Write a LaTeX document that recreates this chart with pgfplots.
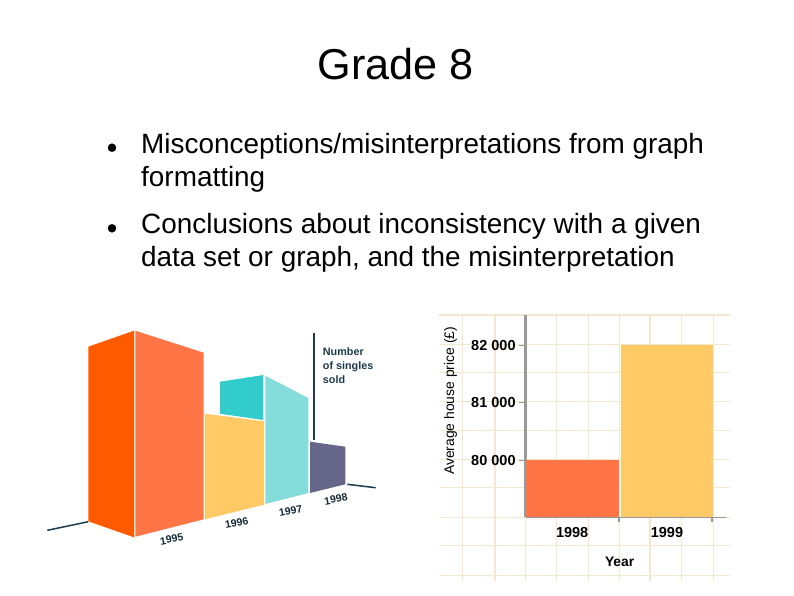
\documentclass[border=0pt]{standalone}
\usepackage{pgfplots}
\pgfplotsset{compat=1.18}
\usepackage{fontspec}
\setmainfont{Liberation Sans}

\definecolor{deeporange}{HTML}{FF5A00}
\definecolor{softorange}{HTML}{FF7545}
\definecolor{softyellow}{HTML}{FFC966}
\definecolor{teal3d}{HTML}{33CCCC}
\definecolor{lightteal}{HTML}{85DDDB}
\definecolor{slate}{HTML}{666688}
\definecolor{inkblue}{HTML}{1C3A4A}
\definecolor{gridcream}{HTML}{F3E8CF}
\definecolor{axisgrey}{HTML}{999999}

\newcommand{\px}[1]{\fontsize{#1}{#1}\selectfont}

\begin{document}
\begin{tikzpicture}[x=1pt,y=1pt]
\useasboundingbox (0,0) rectangle (794,595);

% slide canvas, coordinates are pixels of the slide
\begin{axis}[
	at={(0,0)}, anchor=south west,
	scale only axis, width=794pt, height=595pt,
	xmin=0, xmax=794, ymin=0, ymax=595,
	y dir=reverse,
	hide axis,
	clip=false,
	unbounded coords=jump,
	]
	% cream grid behind the house price chart
	\addplot[gridcream, line width=1.2pt, forget plot] coordinates {
		(462.7,314) (462.7,581) (nan,nan) (495,314) (495,581) (nan,nan)
		(525.7,314) (525.7,581) (nan,nan) (556.7,314) (556.7,581) (nan,nan)
		(588.3,314) (588.3,581) (nan,nan) (619.3,314) (619.3,581) (nan,nan)
		(650,314) (650,581) (nan,nan) (681.7,314) (681.7,581) (nan,nan)
		(713.3,314) (713.3,581)
	};
	\addplot[gridcream, line width=1.2pt, forget plot] coordinates {
		(439,315) (730,315) (nan,nan) (439,344.3) (730,344.3) (nan,nan)
		(439,372.7) (730,372.7) (nan,nan) (439,401.7) (730,401.7) (nan,nan)
		(439,430.7) (730,430.7) (nan,nan) (439,459.3) (730,459.3) (nan,nan)
		(439,487.7) (730,487.7) (nan,nan) (439,517.3) (730,517.3) (nan,nan)
		(439,545.7) (730,545.7) (nan,nan) (439,575.7) (730,575.7)
	};

	% bullets
	\addplot[only marks, mark=*, mark size=4pt, mark options={black}] coordinates {(112,147.7) (112,228.3)};

	% 3d singles chart
	\addplot[fill=deeporange, draw=none] coordinates {(88.3,346.7) (134,330.7) (134,537.3) (88.3,521.3)} --cycle;
	\addplot[fill=softorange, draw=none] coordinates {(135.3,330.7) (203.7,352.7) (203.7,519.3) (135.3,536.7)} --cycle;
	\addplot[fill=teal3d, draw=none] coordinates {(220,381.7) (263.3,375) (263.3,420) (220,413.7)} --cycle;
	\addplot[fill=softyellow, draw=none] coordinates {(205,413.7) (264,421.3) (264,504.7) (205,519.3)} --cycle;
	\addplot[fill=lightteal, draw=none] coordinates {(265.3,375.7) (308.3,398) (308.3,493) (265.3,504)} --cycle;
	\addplot[fill=slate, draw=none] coordinates {(310,441.7) (345.3,446.7) (345.3,484.3) (310,493)} --cycle;

	\addplot[inkblue, line width=1.7pt] coordinates {(314,333.3) (314,440)};
	\addplot[inkblue, line width=1.5pt] coordinates {(47.3,530.3) (88.3,521.7)};
	\addplot[inkblue, line width=1.5pt] coordinates {(347.3,484.3) (375.7,487.7)};

	\node[rotate=11, font=\px{10.5}\bfseries, text=inkblue!70!black] at (axis cs:171.7,539.3) {1995};
	\node[rotate=11, font=\px{10.5}\bfseries, text=inkblue!70!black] at (axis cs:236.7,522.7) {1996};
	\node[rotate=11, font=\px{10.5}\bfseries, text=inkblue!70!black] at (axis cs:290.7,510.7) {1997};
	\node[rotate=11, font=\px{10.5}\bfseries, text=inkblue!70!black] at (axis cs:336,499.3) {1998};
	\node[anchor=base west, inner sep=0, font=\px{10.8}\bfseries, text=inkblue] at (axis cs:322.7,355.5) {Number};
	\node[anchor=base west, inner sep=0, font=\px{10.8}\bfseries, text=inkblue] at (axis cs:322.7,369) {of singles};
	\node[anchor=base west, inner sep=0, font=\px{10.8}\bfseries, text=inkblue] at (axis cs:322.7,383) {sold};

	% slide text
	\node[anchor=base, inner sep=0, font=\px{43.2}] at (axis cs:396,79.5) {Grade 8};
	\node[anchor=base west, inner sep=0, font=\px{27.9}] at (axis cs:141,153) {Misconceptions/misinterpretations from graph};
	\node[anchor=base west, inner sep=0, font=\px{27.9}] at (axis cs:141,186) {formatting};
	\node[anchor=base west, inner sep=0, font=\px{27.9}] at (axis cs:141,233) {Conclusions about inconsistency with a given};
	\node[anchor=base west, inner sep=0, font=\px{27.9}] at (axis cs:141,266) {data set or graph, and the misinterpretation};
\end{axis}

% house price chart
\begin{axis}[
	at={(554.4,134.5)}, anchor=south west,
	scale only axis, width=200pt, height=202.3pt,
	xmin=-0.4905, xmax=1.619,
	ymin=79012, ymax=82520,
	axis x line=bottom, axis y line=left,
	axis line style={-, axisgrey, line width=1.6pt},
	y axis line style={line width=3pt},
	xtick={0,1}, xticklabels={1998,1999},
	minor xtick={0.49,1.48},
	ytick={80000,81000,82000}, yticklabels={80 000,81 000,82 000},
	scaled y ticks=false,
	tick align=outside,
	major tick length=6.5pt, minor tick length=5pt,
	major x tick style={draw=none},
	minor x tick style={axisgrey, line width=2pt},
	major y tick style={axisgrey, line width=1.2pt},
	tick label style={font=\px{14.5}\bfseries},
	xlabel={Year}, ylabel={Average house price (£)},
	label style={font=\px{13.9}},
	x label style={at={(axis description cs:0.47,-0.219)}, anchor=center, font=\px{13.8}\bfseries},
	y label style={at={(axis description cs:-0.375,0.576)}, anchor=center},
	ybar, bar shift=0pt,
	]
	\addplot[fill=softorange, draw=none, bar width=93pt] coordinates {(0,80000)};
	\addplot[fill=softyellow, draw=none, bar width=91.4pt] coordinates {(1,82000)};
\end{axis}
\end{tikzpicture}
\end{document}
